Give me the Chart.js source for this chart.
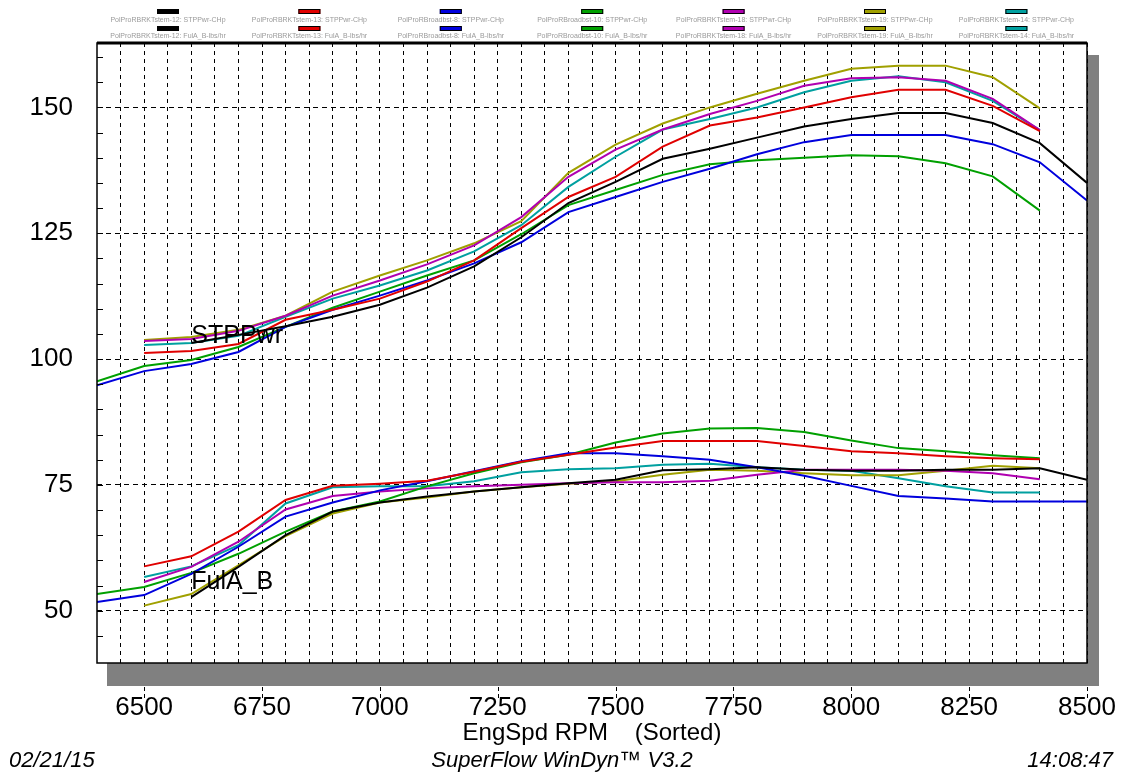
<!DOCTYPE html>
<html>
<head>
<meta charset="utf-8">
<script src="https://cdn.jsdelivr.net/npm/chart.js@4/dist/chart.umd.min.js"></script>
<style>
html,body{margin:0;padding:0;background:#fff;}
#wrap{width:1122px;height:774px;position:relative;}
</style>
</head>
<body>
<div id="wrap"><canvas id="c" width="1122" height="774"></canvas></div>
<script>
// ---- data ----
const rpm = [6400,6500,6600,6700,6800,6900,7000,7100,7200,7300,7400,7500,7600,7700,7800,7900,8000,8100,8200,8300,8400,8500];
const runNames = ['PolProRBRKTstem-12','PolProRBRKTstem-13','PolProRBroadbst-8','PolProRBroadbst-10','PolProRBRKTstem-18','PolProRBRKTstem-19','PolProRBRKTstem-14'];
const pwr12 = [null,null,103.2,104.8,106.5,108.4,110.8,114.2,118.4,124.2,131.0,135.2,139.8,141.8,144.0,146.2,147.7,148.9,148.9,146.9,142.9,135.0];
const pwr13 = [null,101.2,101.6,103.0,107.8,109.8,112.0,115.4,119.6,126.0,132.2,136.2,142.2,146.4,148.0,150.0,152.0,153.5,153.5,150.3,145.3,null];
const pwr8  = [94.8,97.6,99.0,101.4,106.4,109.8,112.6,115.6,119.0,123.2,129.2,132.2,135.2,137.8,140.7,143.1,144.5,144.5,144.5,142.7,139.1,131.5];
const pwr10 = [95.6,98.6,99.8,102.4,106.4,110.2,113.4,116.6,119.6,124.8,130.6,133.6,136.6,138.7,139.5,140.0,140.5,140.3,138.9,136.3,129.5,null];
const pwr18 = [null,103.6,104.0,105.6,108.6,112.6,115.6,118.8,122.6,128.2,136.2,141.6,145.6,148.7,151.3,154.3,155.8,156.0,155.3,151.7,145.5,null];
const pwr19 = [null,103.8,104.4,105.8,108.6,113.4,116.6,119.6,123.0,127.4,137.0,142.6,146.8,150.0,152.7,155.3,157.7,158.3,158.3,156.0,149.8,null];
const pwr14 = [null,102.8,103.2,104.6,108.4,112.0,114.6,117.6,121.4,126.6,134.2,140.2,145.6,147.7,150.0,153.0,155.3,156.2,155.0,151.3,145.5,null];
const fuel12 = [null,null,52.7,58.7,65.0,69.7,71.5,72.7,73.7,74.5,75.3,76.0,77.9,78.1,78.5,78.0,77.8,77.8,78.0,78.0,78.3,76.0];
const fuel13 = [null,58.8,60.8,65.7,72.0,74.8,75.2,75.8,77.6,79.6,81.0,82.4,83.7,83.7,83.7,82.7,81.7,81.3,80.7,80.3,80.1,null];
const fuel8  = [51.7,53.1,57.3,62.7,68.7,71.5,73.9,75.7,77.7,79.7,81.3,81.3,80.7,80.0,78.5,76.8,74.8,72.8,72.3,71.7,71.7,71.7];
const fuel10 = [53.3,54.7,57.5,61.3,65.7,69.7,71.7,74.7,77.3,79.5,81.0,83.4,85.2,86.2,86.3,85.5,83.8,82.3,81.7,80.9,80.3,null];
const fuel18 = [null,55.7,58.7,63.7,70.1,72.8,73.7,74.3,74.7,75.0,75.3,75.5,75.5,75.8,77.0,78.0,78.0,78.0,77.8,77.3,76.1,null];
const fuel19 = [null,51.0,53.3,59.0,64.8,69.3,71.5,72.5,73.7,74.5,75.2,75.7,77.0,78.0,77.8,77.3,76.9,76.9,77.8,78.8,78.3,null];
const fuel14 = [null,56.7,58.8,63.0,71.3,74.5,74.7,74.7,75.7,77.5,78.1,78.3,79.0,79.2,78.5,78.0,77.8,76.3,74.7,73.5,73.5,null];
const yTicks = [50,75,100,125,150];
const xLabelTicks = [6500,6750,7000,7250,7500,7750,8000,8250,8500];

// ---- styles ----
const colors = ['#000000','#e00000','#0000dd','#00a000','#b000b0','#a0a000','#00a0a0'];
const pwrSeries = [pwr12,pwr13,pwr8,pwr10,pwr18,pwr19,pwr14];
const fuelSeries = [fuel12,fuel13,fuel8,fuel10,fuel18,fuel19,fuel14];
const FONT = '"Liberation Sans", Arial, sans-serif';

function toPts(vals){
  const out = [];
  rpm.forEach((r,i)=>{ if(vals[i]!==null) out.push({x:r,y:vals[i]}); });
  return out;
}
const datasets = [];
runNames.forEach((n,i)=>{
  datasets.push({label:n+': STPPwr-CHp', data:toPts(pwrSeries[i]), borderColor:colors[i], borderWidth:2, pointRadius:0, tension:0, fill:false});
});
runNames.forEach((n,i)=>{
  datasets.push({label:n+': FulA_B-lbs/hr', data:toPts(fuelSeries[i]), borderColor:colors[i], borderWidth:2, pointRadius:0, tension:0, fill:false});
});

const deco = {
  id:'deco',
  beforeDraw(chart){
    const {ctx, chartArea:a} = chart;
    ctx.save();
    ctx.fillStyle='#ffffff';
    ctx.fillRect(0,0,chart.width,chart.height);
    ctx.fillStyle='#808080';
    ctx.fillRect(a.right, a.top+12, 12, a.bottom-a.top+11);
    ctx.fillRect(a.left+10, a.bottom, a.right-a.left+2, 23);
    ctx.fillStyle='#ffffff';
    ctx.fillRect(a.left,a.top,a.right-a.left,a.bottom-a.top);
    ctx.restore();
  },
  afterDraw(chart){
    const {ctx, chartArea:a, scales:{x,y}} = chart;
    ctx.save();
    // frame
    ctx.strokeStyle='#000';
    ctx.lineWidth=1.5;
    ctx.strokeRect(a.left,a.top,a.right-a.left,a.bottom-a.top);
    ctx.lineWidth=3;
    ctx.beginPath(); ctx.moveTo(a.left,a.top); ctx.lineTo(a.right,a.top); ctx.stroke();
    // minor y ticks
    ctx.lineWidth=1;
    for(let v=45; v<=160; v+=5){
      const py = Math.round(y.getPixelForValue(v))+0.5;
      ctx.beginPath(); ctx.moveTo(a.left,py); ctx.lineTo(a.left+6,py); ctx.stroke();
    }
    // x major ticks below shadow
    ctx.setLineDash([4,3]);
    xLabelTicks.forEach(v=>{
      const px = Math.round(x.getPixelForValue(v))+0.5;
      ctx.beginPath(); ctx.moveTo(px,a.bottom+24); ctx.lineTo(px,a.bottom+36); ctx.stroke();
    });
    ctx.setLineDash([]);
    // series labels
    ctx.fillStyle='#000';
    ctx.font='25px '+FONT;
    ctx.textBaseline='middle';
    ctx.textAlign='left';
    ctx.fillText('STPPwr', x.getPixelForValue(6600), y.getPixelForValue(104.6));
    ctx.fillText('FulA_B', x.getPixelForValue(6600), y.getPixelForValue(55.6));
    // legend
    ctx.font='7px '+FONT;
    ctx.textAlign='center';
    runNames.forEach((n,i)=>{
      const cx = 168 + i*141.4;
      [[9,20,': STPPwr-CHp'],[26,36,': FulA_B-lbs/hr']].forEach(([sy,ty,suf])=>{
        ctx.fillStyle=colors[i];
        ctx.fillRect(cx-11,sy,22,5);
        ctx.strokeStyle='#000'; ctx.lineWidth=1;
        ctx.strokeRect(cx-11+0.5,sy+0.5,21,4);
        ctx.fillStyle='#9a9a9a';
        ctx.fillText(n+suf, cx, ty);
      });
    });
    // footer
    ctx.fillStyle='#000';
    ctx.font='italic 22px '+FONT;
    ctx.textBaseline='middle';
    ctx.textAlign='left';
    ctx.fillText('02/21/15', 9, 761);
    ctx.textAlign='center';
    ctx.fillText('SuperFlow WinDyn\u2122 V3.2', 562, 761);
    ctx.textAlign='right';
    ctx.fillText('14:08:47', 1113, 761);
    ctx.restore();
  }
};

new Chart(document.getElementById('c'), {
  type:'line',
  data:{datasets},
  plugins:[deco],
  options:{
    responsive:false,
    animation:false,
    events:[],
    layout:{padding:{top:43,right:35,left:0,bottom:0}},
    plugins:{legend:{display:false},tooltip:{enabled:false}},
    scales:{
      x:{
        type:'linear', min:6400, max:8500,
        afterFit(s){ s.height = 111; s.paddingRight = 0; s.paddingLeft = 0; },
        afterBuildTicks(s){ const t=[]; for(let v=6450; v<=8500; v+=50) t.push({value:v}); s.ticks=t; },
        grid:{color:'#000', lineWidth:1, drawTicks:false},
        border:{display:false, dash:[4,4]},
        ticks:{autoSkip:false, maxRotation:0, padding:29, color:'#000', font:{family:FONT,size:26},
          callback:v=> (v%250===0 ? String(v) : '')},
        title:{display:true, text:'EngSpd RPM    (Sorted)', color:'#000', font:{family:FONT,size:24}, padding:{top:0,bottom:26}}
      },
      y:{
        type:'linear', min:39.6, max:162.8,
        afterFit(s){ s.width = 97; s.paddingTop = 0; s.paddingBottom = 0; },
        afterBuildTicks(s){ s.ticks = yTicks.map(v=>({value:v})); },
        grid:{color:'#000', lineWidth:1, drawTicks:false},
        border:{display:false, dash:[5,4]},
        ticks:{padding:24, color:'#000', font:{family:FONT,size:26}}
      }
    }
  }
});
</script>
</body>
</html>
